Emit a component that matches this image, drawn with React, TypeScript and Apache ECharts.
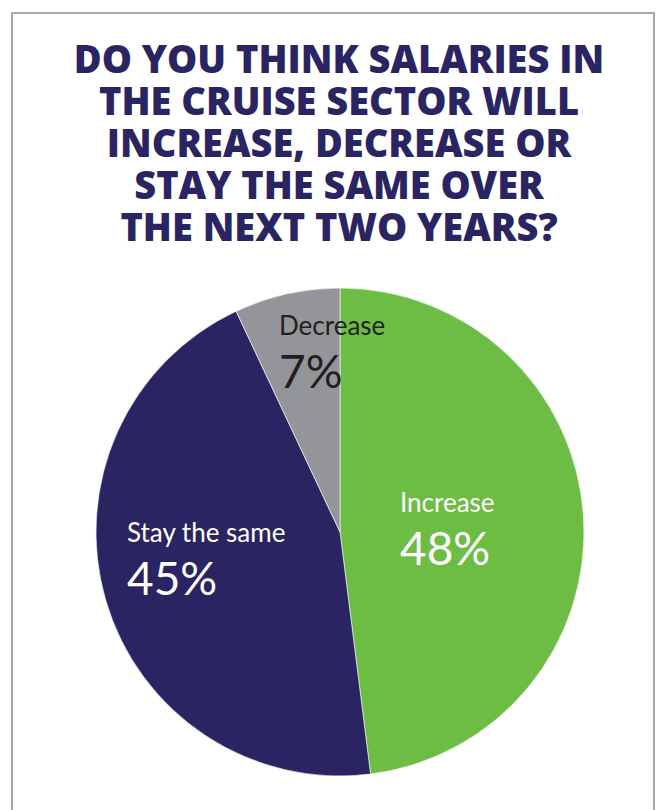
import React, { useEffect, useRef } from "react";
import * as echarts from "echarts";

const categories = ["Increase", "Stay the same", "Decrease"];
const values = [48, 45, 7];
const sliceColors = ["#6DBD45", "#2A2562", "#939598"];
const labelColors = ["#FFFFFF", "#FFFFFF", "#231F20"];
const labelAnchors: [number, number][] = [
  [400, 484],
  [127, 514],
  [279, 307],
];
const titleLines = [
  "DO YOU THINK SALARIES IN",
  "THE CRUISE SECTOR WILL",
  "INCREASE, DECREASE OR",
  "STAY THE SAME OVER",
  "THE NEXT TWO YEARS?",
];

export default function App() {
  const ref = useRef<HTMLDivElement>(null);
  useEffect(() => {
    document.body.style.margin = "0";
    const chart = echarts.init(ref.current!, null, { renderer: "svg" });
    chart.setOption({
      animation: false,
      backgroundColor: "#FFFFFF",
      title: {
        text: titleLines.join("\n"),
        left: 334,
        top: 32,
        textAlign: "center",
        textStyle: {
          fontFamily: "Open Sans",
          fontWeight: 800,
          fontSize: 38,
          lineHeight: 42,
          color: "#2A2562",
        },
      },
      graphic: [
        {
          type: "rect",
          shape: { x: 12, y: 13, width: 642, height: 830 },
          style: { fill: "none", stroke: "#8C8C8C", lineWidth: 1.5 },
          silent: true,
          z: 0,
        },
      ],
      series: [
        {
          type: "pie",
          center: [340, 532],
          radius: [0, 244],
          startAngle: 90,
          clockwise: true,
          itemStyle: { borderColor: "#FFFFFF", borderWidth: 0.6 },
          label: {
            show: true,
            position: "inside",
            formatter: (p: any) => `{n|${p.name}}\n{v|${p.value}%}`,
            align: "left",
            rich: {
              n: { fontFamily: "Lato", fontSize: 26, lineHeight: 36, align: "left" },
              v: { fontFamily: "Lato", fontSize: 46, lineHeight: 54, align: "left" },
            },
          },
          labelLayout: (params: any) => ({
            x: labelAnchors[params.dataIndex][0],
            y: labelAnchors[params.dataIndex][1],
            align: "left",
            verticalAlign: "top",
          }),
          labelLine: { show: false },
          emphasis: { disabled: true },
          data: categories.map((c, i) => ({
            name: c,
            value: values[i],
            itemStyle: { color: sliceColors[i] },
            label: {
              color: labelColors[i],
              rich: {
                n: { color: labelColors[i] },
                v: { color: labelColors[i] },
              },
            },
          })),
        },
      ],
    });
    return () => chart.dispose();
  }, []);
  return <div ref={ref} style={{ width: 657, height: 810 }} />;
}
